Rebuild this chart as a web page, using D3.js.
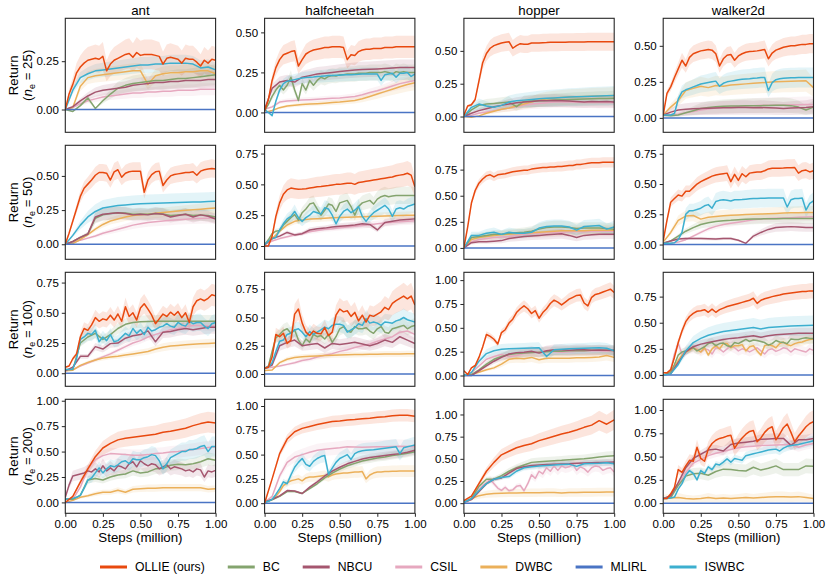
<!DOCTYPE html>
<html>
<head>
<meta charset="utf-8">
<script src="https://cdn.jsdelivr.net/npm/d3@7"></script>
<style>
body { margin: 0; background: #fff; }
svg text { font-family: "Liberation Sans", Arial, Helvetica, sans-serif; fill: #000; }
</style>
</head>
<body>
<svg id="view" width="830" height="584"></svg>
<script>

const methods = ['OLLIE (ours)', 'BC', 'NBCU', 'CSIL', 'DWBC', 'MLIRL', 'ISWBC'];
const colors  = ['#e8490f', '#84a46e', '#a5566f', '#e6a8bf', '#ebb05a', '#4a74c4', '#3cafcf'];
const envs    = ['ant', 'halfcheetah', 'hopper', 'walker2d'];
const demoSizes = [25, 50, 100, 200];
const xTicks  = [0, 0.25, 0.5, 0.75, 1];

// y limits per panel (ant, halfcheetah, hopper, walker2d)
const yLim25  = [[-0.118, 0.472], [-0.124, 0.588], [-0.12, 0.748], [-0.1, 0.691]];
const yLim50  = [[-0.11, 0.724], [-0.108, 0.817], [-0.109, 0.983], [-0.122, 0.82]];
const yLim100 = [[-0.108, 0.835], [-0.109, 0.9], [-0.113, 1.082], [-0.109, 0.983]];
const yLim200 = [[-0.107, 1.014], [-0.104, 1.069], [-0.114, 1.171], [-0.109, 1.115]];

// mean return, evenly spaced over 0..1 million steps
// order: OLLIE, BC, NBCU, CSIL, DWBC, MLIRL, ISWBC
const ant25 = [
  [0,0.08,0.13,0.19,0.22,0.24,0.255,0.26,0.265,0.26,0.275,0.2,0.235,0.255,0.265,0.275,0.285,0.29,0.27,0.295,0.28,0.285,0.285,0.285,0.28,0.275,0.235,0.265,0.27,0.265,0.26,0.24,0.265,0.26,0.26,0.245,0.225,0.255,0.24,0.26,0.255],
  [0,-0.01,0.02,0.06,0.005,0.045,0.08,0.11,0.125,0.135,0.14,0.145,0.15,0.15,0.155,0.16,0.16,0.165,0.17,0.175,0.18],
  [0,0.015,0.045,0.07,0.09,0.1,0.105,0.11,0.115,0.125,0.13,0.135,0.14,0.14,0.145,0.145,0.15,0.15,0.15,0.155,0.155],
  [0,0.01,0.03,0.045,0.055,0.065,0.07,0.075,0.08,0.085,0.085,0.09,0.09,0.095,0.095,0.1,0.1,0.1,0.105,0.105,0.105],
  [0,0.01,0.12,0.165,0.175,0.18,0.185,0.19,0.195,0.2,0.2,0.13,0.175,0.185,0.19,0.19,0.195,0.195,0.2,0.2,0.185],
  [0,0],
  [0,0.1,0.165,0.185,0.2,0.205,0.21,0.215,0.22,0.225,0.23,0.23,0.235,0.235,0.24,0.24,0.24,0.235,0.215,0.22,0.205]
];
const halfcheetah25 = [
  [0.01,0.08,0.2,0.28,0.33,0.36,0.37,0.38,0.385,0.29,0.33,0.365,0.38,0.39,0.395,0.4,0.405,0.405,0.41,0.41,0.41,0.405,0.33,0.36,0.355,0.38,0.39,0.395,0.395,0.4,0.4,0.4,0.405,0.405,0.405,0.41,0.41,0.41,0.41,0.41,0.41],
  [0.01,0.05,0.1,0.14,0.17,0.14,0.17,0.22,0.14,0.075,0.18,0.14,0.2,0.17,0.2,0.22,0.21,0.225,0.23,0.228,0.235,0.235,0.24,0.24,0.24,0.245,0.245,0.245,0.25,0.25,0.25,0.25,0.255,0.25,0.24,0.255,0.25,0.255,0.25,0.25,0.25],
  [0.02,0.15,0.19,0.2,0.19,0.22,0.23,0.24,0.245,0.25,0.255,0.26,0.265,0.268,0.27,0.272,0.275,0.278,0.28,0.28,0.28],
  [0.02,0.035,0.065,0.072,0.075,0.078,0.08,0.082,0.085,0.088,0.09,0.095,0.1,0.11,0.125,0.135,0.15,0.165,0.18,0.19,0.2],
  [0,0.012,0.03,0.04,0.045,0.05,0.052,0.055,0.058,0.062,0.065,0.07,0.075,0.085,0.1,0.115,0.13,0.145,0.16,0.175,0.185],
  [0,0],
  [0.02,0,-0.02,0.07,0.14,0.18,0.195,0.2,0.205,0.21,0.215,0.218,0.22,0.222,0.225,0.226,0.228,0.23,0.23,0.232,0.233,0.235,0.235,0.236,0.237,0.238,0.24,0.24,0.24,0.24,0.24,0.2,0.235,0.24,0.245,0.22,0.245,0.245,0.25,0.225,0.24]
];
const hopper25 = [
  [0.01,0.08,0.09,0.13,0.27,0.41,0.48,0.52,0.54,0.55,0.56,0.565,0.57,0.52,0.54,0.555,0.55,0.55,0.56,0.56,0.56,0.562,0.563,0.565,0.565,0.565,0.566,0.566,0.567,0.567,0.568,0.568,0.568,0.569,0.569,0.569,0.57,0.57,0.57,0.57,0.57],
  [0,0.05,0.085,0.095,0.1,0.105,0.11,0.075,0.115,0.118,0.12,0.122,0.125,0.127,0.13,0.132,0.134,0.135,0.137,0.138,0.14],
  [0,0.025,0.045,0.06,0.075,0.085,0.095,0.105,0.11,0.115,0.12,0.12,0.122,0.12,0.118,0.115,0.11,0.115,0.112,0.115,0.11],
  [0,0.01,0.025,0.035,0.045,0.055,0.065,0.075,0.085,0.095,0.1,0.105,0.11,0.11,0.11,0.108,0.107,0.108,0.106,0.106,0.105],
  [0,-0.005,0.005,0.025,0.04,0.055,0.065,0.08,0.095,0.11,0.125,0.135,0.14,0.145,0.148,0.15,0.153,0.155,0.157,0.158,0.16],
  [0,0],
  [0,0.07,0.095,0.08,0.07,0.085,0.11,0.12,0.125,0.13,0.135,0.14,0.142,0.145,0.148,0.15,0.153,0.155,0.157,0.158,0.16]
];
const walker2d25 = [
  [0.02,0.17,0.215,0.28,0.34,0.4,0.36,0.42,0.445,0.455,0.465,0.47,0.475,0.47,0.445,0.36,0.41,0.435,0.44,0.4,0.43,0.445,0.455,0.46,0.462,0.465,0.47,0.475,0.41,0.45,0.47,0.48,0.49,0.495,0.5,0.5,0.505,0.51,0.51,0.515,0.515],
  [0.02,0.015,0.02,0.035,0.05,0.065,0.072,0.077,0.08,0.082,0.083,0.084,0.085,0.085,0.086,0.087,0.088,0.085,0.075,0.055,0.075],
  [0.02,0.04,0.055,0.06,0.063,0.065,0.067,0.068,0.07,0.07,0.072,0.072,0.07,0.072,0.07,0.068,0.065,0.068,0.07,0.072,0.078],
  [0.02,0.02,0.025,0.035,0.045,0.055,0.062,0.068,0.073,0.077,0.08,0.083,0.085,0.087,0.088,0.089,0.09,0.091,0.092,0.093,0.093],
  [0.02,0.075,0.12,0.19,0.205,0.22,0.21,0.225,0.22,0.228,0.232,0.236,0.24,0.244,0.248,0.25,0.253,0.255,0.256,0.258,0.21],
  [0,0],
  [0.02,0.02,0.02,0.03,0.13,0.18,0.195,0.205,0.215,0.225,0.235,0.24,0.245,0.25,0.255,0.22,0.24,0.25,0.255,0.26,0.265,0.268,0.27,0.272,0.275,0.277,0.28,0.28,0.19,0.245,0.265,0.272,0.275,0.277,0.278,0.278,0.28,0.28,0.28,0.28,0.28]
];

const ant50 = [
  [0,0.08,0.17,0.26,0.35,0.41,0.44,0.47,0.505,0.525,0.525,0.52,0.47,0.53,0.545,0.49,0.52,0.53,0.535,0.535,0.535,0.38,0.47,0.51,0.53,0.535,0.43,0.47,0.5,0.51,0.515,0.52,0.525,0.525,0.53,0.505,0.535,0.545,0.55,0.555,0.55],
  [0,0.02,0.05,0.075,0.19,0.215,0.225,0.23,0.228,0.22,0.222,0.22,0.225,0.222,0.21,0.215,0.22,0.21,0.215,0.21,0.2],
  [0,0.02,0.05,0.075,0.2,0.22,0.225,0.23,0.225,0.215,0.22,0.215,0.225,0.22,0.2,0.21,0.22,0.2,0.215,0.205,0.185],
  [0,0.01,0.03,0.045,0.06,0.08,0.095,0.11,0.125,0.14,0.15,0.16,0.165,0.17,0.175,0.18,0.183,0.186,0.188,0.19,0.19],
  [0,0.005,0.035,0.07,0.11,0.145,0.17,0.185,0.2,0.21,0.215,0.22,0.227,0.233,0.238,0.243,0.248,0.253,0.257,0.262,0.265],
  [0,0],
  [0,0.065,0.14,0.2,0.24,0.265,0.275,0.283,0.288,0.292,0.296,0.298,0.3,0.302,0.304,0.306,0.308,0.309,0.31,0.312,0.315]
];
const halfcheetah50 = [
  [0,0,0.08,0.24,0.35,0.42,0.455,0.47,0.465,0.46,0.462,0.465,0.47,0.475,0.48,0.482,0.487,0.49,0.495,0.5,0.5,0.505,0.51,0.51,0.5,0.515,0.52,0.525,0.53,0.535,0.54,0.545,0.55,0.555,0.56,0.57,0.575,0.58,0.59,0.575,0.48],
  [0.01,0.05,0.1,0.12,0.125,0.17,0.2,0.23,0.255,0.21,0.27,0.3,0.34,0.35,0.3,0.25,0.29,0.34,0.33,0.28,0.35,0.36,0.37,0.32,0.25,0.32,0.35,0.36,0.37,0.34,0.38,0.4,0.41,0.4,0.405,0.41,0.41,0.41,0.41,0.41,0.41],
  [0.01,0.06,0.08,0.11,0.09,0.1,0.13,0.14,0.145,0.155,0.16,0.165,0.17,0.18,0.175,0.13,0.19,0.2,0.21,0.215,0.22],
  [0.01,0.04,0.06,0.075,0.09,0.1,0.115,0.125,0.135,0.14,0.148,0.155,0.16,0.167,0.173,0.18,0.187,0.192,0.197,0.2,0.205],
  [0.01,0.06,0.12,0.17,0.2,0.21,0.218,0.222,0.226,0.229,0.232,0.234,0.236,0.238,0.24,0.242,0.244,0.246,0.248,0.249,0.25],
  [0,0],
  [0.01,0.04,0.06,0.07,0.13,0.18,0.22,0.24,0.28,0.23,0.2,0.23,0.25,0.28,0.27,0.26,0.31,0.3,0.25,0.18,0.24,0.28,0.3,0.27,0.29,0.32,0.24,0.2,0.24,0.27,0.29,0.31,0.33,0.3,0.24,0.3,0.31,0.3,0.32,0.33,0.34]
];
const hopper50 = [
  [0,0.2,0.43,0.55,0.62,0.66,0.69,0.7,0.68,0.7,0.705,0.71,0.72,0.73,0.735,0.74,0.745,0.745,0.755,0.76,0.765,0.77,0.77,0.775,0.775,0.78,0.78,0.785,0.79,0.79,0.8,0.8,0.805,0.81,0.815,0.815,0.815,0.82,0.82,0.82,0.82],
  [0,0.1,0.11,0.12,0.13,0.13,0.14,0.145,0.15,0.16,0.18,0.195,0.2,0.2,0.195,0.185,0.19,0.19,0.19,0.185,0.18],
  [0,0.05,0.06,0.06,0.065,0.07,0.09,0.1,0.11,0.115,0.12,0.125,0.13,0.135,0.12,0.1,0.12,0.125,0.13,0.13,0.13],
  [0,0.06,0.08,0.09,0.1,0.105,0.11,0.12,0.13,0.135,0.14,0.145,0.15,0.15,0.155,0.155,0.155,0.16,0.16,0.16,0.16],
  [0,0.08,0.1,0.11,0.12,0.125,0.13,0.135,0.14,0.145,0.15,0.155,0.16,0.165,0.165,0.165,0.165,0.17,0.17,0.17,0.17],
  [0,0],
  [0,0.12,0.12,0.14,0.15,0.13,0.15,0.14,0.14,0.15,0.19,0.205,0.21,0.21,0.2,0.17,0.205,0.21,0.215,0.18,0.2]
];
const walker2d50 = [
  [0.03,0.2,0.35,0.38,0.41,0.4,0.44,0.44,0.47,0.5,0.52,0.535,0.55,0.565,0.575,0.58,0.585,0.59,0.52,0.58,0.53,0.585,0.56,0.59,0.595,0.6,0.6,0.61,0.625,0.63,0.63,0.63,0.632,0.635,0.635,0.636,0.59,0.61,0.615,0.6,0.61],
  [0.01,0.03,0.07,0.11,0.14,0.165,0.18,0.19,0.197,0.2,0.205,0.208,0.21,0.212,0.213,0.214,0.215,0.215,0.215,0.215,0.215],
  [0.01,0.03,0.045,0.05,0.05,0.05,0.048,0.045,0.05,0.05,0.035,0.01,0.07,0.1,0.125,0.14,0.145,0.148,0.145,0.14,0.14],
  [0.01,0.01,0.02,0.04,0.07,0.1,0.13,0.15,0.165,0.175,0.185,0.195,0.205,0.21,0.215,0.218,0.22,0.222,0.225,0.228,0.23],
  [0.02,0.1,0.2,0.235,0.24,0.21,0.225,0.232,0.238,0.242,0.245,0.248,0.25,0.252,0.255,0.257,0.26,0.262,0.263,0.264,0.265],
  [0,0],
  [0.01,0.01,0.01,0.015,0.04,0.1,0.25,0.28,0.28,0.29,0.3,0.32,0.33,0.3,0.355,0.365,0.37,0.365,0.36,0.37,0.37,0.372,0.375,0.378,0.38,0.38,0.382,0.383,0.384,0.385,0.385,0.385,0.385,0.31,0.37,0.38,0.38,0.385,0.285,0.34,0.36]
];

const ant100 = [
  [0.05,0.06,0.12,0.16,0.3,0.37,0.355,0.4,0.46,0.43,0.45,0.44,0.48,0.44,0.49,0.43,0.55,0.47,0.5,0.44,0.54,0.575,0.53,0.48,0.41,0.45,0.49,0.47,0.505,0.48,0.51,0.46,0.5,0.42,0.55,0.6,0.615,0.6,0.62,0.65,0.64],
  [0.03,0.03,0.25,0.3,0.33,0.28,0.32,0.37,0.405,0.42,0.425,0.428,0.43,0.43,0.43,0.43,0.43,0.43,0.43,0.43,0.43],
  [0.02,0.05,0.14,0.14,0.22,0.2,0.245,0.25,0.29,0.31,0.32,0.35,0.26,0.34,0.345,0.36,0.37,0.36,0.37,0.38,0.38],
  [0.02,0.03,0.06,0.085,0.11,0.135,0.16,0.19,0.22,0.25,0.27,0.3,0.32,0.34,0.36,0.37,0.385,0.395,0.395,0.39,0.39],
  [0.02,0.025,0.065,0.09,0.11,0.125,0.135,0.14,0.15,0.16,0.17,0.18,0.2,0.215,0.225,0.23,0.235,0.24,0.243,0.247,0.25],
  [0,0],
  [0.03,0.03,0.035,0.12,0.28,0.3,0.33,0.32,0.355,0.26,0.3,0.27,0.32,0.26,0.27,0.3,0.33,0.31,0.37,0.33,0.36,0.32,0.38,0.35,0.36,0.38,0.39,0.41,0.39,0.38,0.42,0.4,0.39,0.43,0.41,0.42,0.42,0.39,0.37,0.41,0.42]
];
const halfcheetah100 = [
  [0.05,0.06,0.15,0.35,0.33,0.36,0.27,0.3,0.53,0.575,0.45,0.37,0.34,0.38,0.36,0.355,0.41,0.34,0.37,0.52,0.575,0.55,0.56,0.51,0.545,0.47,0.52,0.46,0.52,0.51,0.53,0.55,0.59,0.57,0.625,0.65,0.67,0.69,0.665,0.69,0.61],
  [0.05,0.07,0.2,0.32,0.35,0.385,0.4,0.36,0.39,0.3,0.25,0.31,0.28,0.35,0.33,0.34,0.31,0.35,0.28,0.33,0.4,0.42,0.38,0.37,0.42,0.4,0.4,0.41,0.38,0.36,0.4,0.42,0.37,0.36,0.4,0.41,0.42,0.43,0.4,0.42,0.43],
  [0.05,0.08,0.25,0.28,0.3,0.25,0.26,0.27,0.23,0.27,0.26,0.27,0.28,0.265,0.25,0.27,0.3,0.28,0.33,0.3,0.27],
  [0.05,0.06,0.07,0.085,0.1,0.12,0.13,0.15,0.165,0.18,0.2,0.215,0.235,0.25,0.265,0.29,0.31,0.33,0.37,0.38,0.35],
  [0.03,0.035,0.1,0.13,0.145,0.152,0.156,0.16,0.163,0.166,0.168,0.17,0.172,0.173,0.174,0.175,0.176,0.177,0.177,0.178,0.178],
  [0,0],
  [0.05,0.06,0.1,0.2,0.29,0.3,0.35,0.36,0.39,0.4,0.37,0.33,0.375,0.35,0.37,0.39,0.415,0.4,0.43,0.44,0.44,0.43,0.37,0.39,0.41,0.445,0.43,0.49,0.45,0.46,0.45,0.43,0.46,0.455,0.45,0.47,0.48,0.5,0.48,0.47,0.46]
];
const hopper100 = [
  [0.05,0.01,0.08,0.105,0.19,0.3,0.43,0.41,0.38,0.33,0.45,0.48,0.55,0.59,0.66,0.7,0.73,0.7,0.65,0.68,0.6,0.66,0.7,0.755,0.79,0.77,0.74,0.77,0.8,0.82,0.84,0.845,0.76,0.73,0.82,0.85,0.86,0.875,0.89,0.905,0.87],
  [0,0.01,0.06,0.12,0.17,0.2,0.22,0.23,0.235,0.24,0.245,0.25,0.255,0.255,0.26,0.26,0.26,0.265,0.265,0.265,0.26],
  [0,0,0.05,0.1,0.15,0.19,0.225,0.24,0.245,0.255,0.235,0.26,0.27,0.27,0.265,0.27,0.27,0.265,0.268,0.265,0.265],
  [0,0.03,0.1,0.17,0.2,0.22,0.2,0.21,0.23,0.24,0.25,0.26,0.25,0.245,0.25,0.255,0.255,0.26,0.26,0.255,0.25],
  [0,0.01,0.035,0.06,0.08,0.12,0.17,0.18,0.175,0.19,0.165,0.18,0.18,0.18,0.18,0.185,0.185,0.19,0.195,0.21,0.19],
  [0,0],
  [0,0.03,0.15,0.23,0.26,0.275,0.28,0.282,0.285,0.288,0.29,0.2,0.27,0.275,0.28,0.282,0.285,0.288,0.29,0.285,0.26]
];
const walker2d100 = [
  [0.02,0.02,0.05,0.17,0.31,0.42,0.51,0.56,0.59,0.61,0.615,0.625,0.6,0.63,0.6,0.625,0.64,0.655,0.665,0.675,0.685,0.695,0.705,0.715,0.735,0.685,0.715,0.73,0.74,0.75,0.758,0.765,0.775,0.78,0.785,0.79,0.795,0.8,0.8,0.805,0.805],
  [0,0.01,0.03,0.1,0.19,0.22,0.23,0.25,0.26,0.23,0.25,0.27,0.3,0.31,0.28,0.3,0.305,0.28,0.27,0.31,0.3,0.32,0.34,0.32,0.335,0.33,0.32,0.31,0.285,0.3,0.33,0.315,0.31,0.3,0.345,0.34,0.34,0.35,0.355,0.35,0.35],
  [0,0.01,0.12,0.22,0.27,0.295,0.31,0.325,0.34,0.35,0.355,0.365,0.375,0.36,0.375,0.385,0.39,0.395,0.4,0.4,0.4],
  [0,0.01,0.05,0.2,0.3,0.2,0.23,0.25,0.26,0.25,0.22,0.25,0.24,0.2,0.26,0.25,0.22,0.25,0.28,0.26,0.23,0.25,0.24,0.22,0.24,0.26,0.23,0.2,0.24,0.25,0.225,0.24,0.26,0.25,0.22,0.25,0.24,0.23,0.22,0.25,0.235],
  [0,0.01,0.03,0.08,0.14,0.19,0.22,0.235,0.26,0.24,0.22,0.26,0.19,0.25,0.28,0.25,0.3,0.3,0.26,0.28,0.28,0.29,0.23,0.27,0.28,0.23,0.19,0.28,0.29,0.28,0.26,0.3,0.315,0.29,0.28,0.3,0.31,0.315,0.33,0.34,0.345],
  [0,0],
  [0,0.01,0.1,0.23,0.31,0.35,0.38,0.4,0.415,0.425,0.435,0.445,0.455,0.44,0.455,0.46,0.465,0.468,0.47,0.473,0.475]
];

const ant200 = [
  [0,0.06,0.2,0.33,0.45,0.535,0.58,0.615,0.63,0.64,0.65,0.66,0.67,0.69,0.7,0.715,0.73,0.755,0.775,0.79,0.78],
  [0.03,0.03,0.07,0.22,0.235,0.22,0.25,0.27,0.28,0.31,0.29,0.3,0.33,0.335,0.365,0.375,0.37,0.38,0.4,0.43,0.415],
  [0.05,0.17,0.26,0.27,0.28,0.29,0.31,0.3,0.33,0.3,0.36,0.31,0.34,0.31,0.36,0.35,0.33,0.38,0.4,0.35,0.41,0.38,0.36,0.38,0.37,0.33,0.35,0.37,0.33,0.35,0.34,0.33,0.31,0.32,0.3,0.33,0.32,0.25,0.31,0.3,0.315],
  [0.03,0.03,0.15,0.33,0.42,0.46,0.48,0.475,0.47,0.465,0.465,0.47,0.48,0.485,0.495,0.5,0.51,0.52,0.53,0.54,0.545],
  [0,0.02,0.05,0.065,0.085,0.1,0.1,0.12,0.1,0.13,0.135,0.14,0.14,0.145,0.145,0.145,0.145,0.145,0.145,0.13,0.135],
  [0,0],
  [0.03,0.035,0.04,0.05,0.07,0.14,0.22,0.24,0.29,0.34,0.29,0.33,0.36,0.35,0.37,0.4,0.41,0.38,0.43,0.42,0.42,0.44,0.45,0.47,0.46,0.41,0.33,0.38,0.44,0.46,0.48,0.5,0.5,0.52,0.52,0.53,0.55,0.56,0.5,0.55,0.55]
];
const halfcheetah200 = [
  [0,0.25,0.51,0.66,0.735,0.77,0.79,0.81,0.825,0.84,0.845,0.855,0.86,0.87,0.875,0.885,0.89,0.9,0.905,0.905,0.895],
  [0.01,0.035,0.07,0.12,0.12,0.1,0.15,0.2,0.26,0.31,0.35,0.385,0.41,0.435,0.45,0.465,0.475,0.49,0.5,0.515,0.53],
  [0.01,0.04,0.075,0.13,0.125,0.1,0.165,0.22,0.28,0.33,0.37,0.405,0.43,0.455,0.47,0.48,0.49,0.5,0.51,0.525,0.545],
  [0.01,0.07,0.28,0.42,0.475,0.5,0.525,0.545,0.555,0.562,0.57,0.58,0.578,0.575,0.578,0.58,0.582,0.584,0.585,0.583,0.58],
  [0.01,0.02,0.04,0.07,0.12,0.18,0.21,0.23,0.24,0.25,0.23,0.26,0.27,0.27,0.275,0.28,0.285,0.27,0.29,0.3,0.305,0.31,0.31,0.315,0.32,0.32,0.325,0.25,0.29,0.31,0.32,0.322,0.325,0.327,0.328,0.329,0.33,0.33,0.33,0.33,0.33],
  [0,0],
  [0.01,0.02,0.04,0.09,0.15,0.22,0.2,0.29,0.37,0.42,0.46,0.4,0.38,0.43,0.46,0.48,0.49,0.3,0.36,0.42,0.46,0.48,0.5,0.45,0.51,0.53,0.54,0.545,0.548,0.55,0.555,0.56,0.565,0.57,0.575,0.58,0.51,0.57,0.58,0.59,0.6]
];
const hopper200 = [
  [0.03,0.08,0.22,0.36,0.46,0.545,0.585,0.625,0.65,0.67,0.705,0.73,0.755,0.78,0.8,0.825,0.855,0.88,0.93,0.89,0.94],
  [0.01,0.05,0.19,0.27,0.27,0.31,0.36,0.4,0.43,0.46,0.468,0.473,0.478,0.483,0.49,0.495,0.5,0.51,0.52,0.53,0.535],
  [0.01,0.04,0.13,0.22,0.27,0.285,0.34,0.39,0.41,0.425,0.43,0.435,0.44,0.443,0.445,0.45,0.453,0.455,0.458,0.462,0.465],
  [0.01,0.02,0.05,0.09,0.16,0.2,0.23,0.27,0.22,0.17,0.145,0.18,0.14,0.15,0.19,0.2,0.14,0.22,0.32,0.28,0.36,0.33,0.4,0.36,0.42,0.37,0.42,0.4,0.41,0.44,0.37,0.41,0.39,0.35,0.4,0.42,0.41,0.37,0.39,0.4,0.35],
  [0.01,0.05,0.085,0.1,0.108,0.112,0.114,0.115,0.117,0.118,0.119,0.12,0.12,0.115,0.12,0.121,0.122,0.123,0.124,0.125,0.125],
  [0,0],
  [0.01,0.05,0.14,0.22,0.27,0.29,0.3,0.36,0.4,0.41,0.42,0.425,0.43,0.435,0.44,0.415,0.445,0.448,0.45,0.455,0.445]
];
const walker2d200 = [
  [0.05,0.05,0.1,0.17,0.36,0.33,0.4,0.46,0.45,0.6,0.48,0.45,0.58,0.64,0.675,0.695,0.705,0.72,0.73,0.59,0.65,0.7,0.74,0.77,0.78,0.66,0.7,0.76,0.8,0.82,0.68,0.74,0.81,0.85,0.76,0.66,0.72,0.77,0.82,0.855,0.875],
  [0.05,0.06,0.19,0.29,0.315,0.32,0.3,0.34,0.365,0.36,0.35,0.345,0.385,0.355,0.375,0.4,0.36,0.36,0.36,0.4,0.395],
  [0.05,0.08,0.22,0.38,0.48,0.525,0.57,0.58,0.56,0.63,0.645,0.655,0.665,0.685,0.69,0.695,0.695,0.62,0.68,0.68,0.695],
  [0.05,0.07,0.19,0.33,0.43,0.47,0.51,0.535,0.555,0.575,0.595,0.605,0.612,0.62,0.622,0.625,0.628,0.63,0.6,0.625,0.64],
  [0.05,0.055,0.06,0.05,0.045,0.05,0.06,0.05,0.055,0.05,0.055,0.06,0.055,0.06,0.065,0.07,0.07,0.065,0.07,0.06,0.05],
  [0,0],
  [0.05,0.05,0.055,0.065,0.15,0.21,0.3,0.35,0.32,0.25,0.35,0.32,0.39,0.36,0.42,0.41,0.44,0.475,0.44,0.48,0.47,0.46,0.51,0.52,0.53,0.54,0.55,0.56,0.57,0.575,0.58,0.56,0.59,0.61,0.62,0.625,0.63,0.64,0.65,0.66,0.67]
];

// shaded band half-width, as a fraction of the mean (same method order)
const spread25  = [[0.27,0.3,0.27,0.3,0.2,0,0.18], [0.17,0.2,0.18,0.2,0.25,0,0.17], [0.12,0.4,0.4,0.4,0.4,0,0.45], [0.13,0.6,0.7,0.6,0.3,0,0.25]];
const spread50  = [[0.12,0.2,0.2,0.2,0.15,0,0.22], [0.17,0.17,0.15,0.15,0.12,0,0.2], [0.06,0.3,0.35,0.3,0.3,0,0.3], [0.11,0.2,0.25,0.15,0.2,0,0.2]];
const spread100 = [[0.14,0.12,0.14,0.1,0.15,0,0.17], [0.17,0.15,0.18,0.15,0.15,0,0.16], [0.08,0.2,0.2,0.2,0.25,0,0.2], [0.09,0.15,0.13,0.2,0.12,0,0.2]];
const spread200 = [[0.13,0.15,0.2,0.12,0.25,0,0.18], [0.07,0.08,0.08,0.12,0.18,0,0.14], [0.12,0.1,0.08,0.15,0.4,0,0.08], [0.14,0.2,0.08,0.08,0.8,0,0.08]];

const panels = [
  [ant25, halfcheetah25, hopper25, walker2d25],
  [ant50, halfcheetah50, hopper50, walker2d50],
  [ant100, halfcheetah100, hopper100, walker2d100],
  [ant200, halfcheetah200, hopper200, walker2d200]
];
const yLims   = [yLim25, yLim50, yLim100, yLim200];
const spreads = [spread25, spread50, spread100, spread200];

const drawOrder = [3, 4, 1, 2, 5, 6, 0];

const left0 = 65.3, colStep = 199.3, pw = 150.3;
const top0 = 18.3, rowStep = 127, ph = 114;
const frameColor = '#262626';

const svg = d3.select('#view');

panels.forEach((row, r) => row.forEach((series, c) => {
    const g = svg.append('g')
        .attr('transform', `translate(${left0 + c * colStep},${top0 + r * rowStep})`);

    const x = d3.scaleLinear().domain([0, 1]).range([0, pw]);
    const y = d3.scaleLinear().domain(yLims[r][c]).range([ph, 0]);

    const clipId = `clip-${r}-${c}`;
    g.append('clipPath').attr('id', clipId)
        .append('rect').attr('width', pw).attr('height', ph);
    const plot = g.append('g').attr('clip-path', `url(#${clipId})`);

    const toPoints = vals => vals.map((v, i) => ({ x: i / (vals.length - 1), v: v }));
    const sp = spreads[r][c];

    // bands first
    drawOrder.forEach(k => {
        if (!sp[k]) return;
        const band = d3.area()
            .x(d => x(d.x))
            .y0(d => y(d.v - sp[k] * Math.abs(d.v)))
            .y1(d => y(d.v + sp[k] * Math.abs(d.v)));
        plot.append('path')
            .datum(toPoints(series[k]))
            .attr('d', band)
            .attr('fill', colors[k])
            .attr('fill-opacity', 0.14)
            .attr('stroke', 'none');
    });

    const line = d3.line().x(d => x(d.x)).y(d => y(d.v));
    drawOrder.forEach(k => {
        plot.append('path')
            .datum(toPoints(series[k]))
            .attr('d', line)
            .attr('fill', 'none')
            .attr('stroke', colors[k])
            .attr('stroke-width', 1.5)
            .attr('stroke-linejoin', 'round');
    });

    g.append('rect')
        .attr('width', pw).attr('height', ph)
        .attr('fill', 'none')
        .attr('stroke', frameColor)
        .attr('stroke-width', 1.1);

    const [lo, hi] = yLims[r][c];
    const yTicks = d3.range(Math.ceil(lo / 0.25), Math.floor(hi / 0.25) + 1).map(i => i * 0.25);
    const yAxis = g.append('g')
        .call(d3.axisLeft(y).tickValues(yTicks).tickFormat(d3.format('.2f')).tickSize(3.5).tickPadding(3));
    yAxis.select('.domain').remove();
    yAxis.selectAll('line').attr('stroke', frameColor);
    yAxis.selectAll('text').attr('font-size', 11.5).attr('font-family', null);

    if (r === panels.length - 1) {
        const xAxis = g.append('g')
            .attr('transform', `translate(0,${ph})`)
            .call(d3.axisBottom(x).tickValues(xTicks).tickFormat(d3.format('.2f')).tickSize(3.5).tickPadding(3));
        xAxis.select('.domain').remove();
        xAxis.selectAll('line').attr('stroke', frameColor);
        xAxis.selectAll('text').attr('font-size', 11.5).attr('font-family', null);

        g.append('text')
            .attr('x', pw / 2).attr('y', ph + 28.5)
            .attr('text-anchor', 'middle')
            .attr('font-size', 13.3)
            .text('Steps (million)');
    }

    if (r === 0) {
        g.append('text')
            .attr('x', pw / 2).attr('y', -3.5)
            .attr('text-anchor', 'middle')
            .attr('font-size', 13.3)
            .text(envs[c]);
    }

    if (c === 0) {
        const lab = g.append('g')
            .attr('transform', `translate(${-left0},${ph / 2}) rotate(-90)`);
        lab.append('text')
            .attr('x', 0).attr('y', 17.5)
            .attr('text-anchor', 'middle')
            .attr('font-size', 13.3)
            .text('Return');
        const t2 = lab.append('text')
            .attr('x', 0).attr('y', 32)
            .attr('text-anchor', 'middle')
            .attr('font-size', 13.3);
        t2.append('tspan').text('(');
        t2.append('tspan').attr('font-style', 'italic').text('n');
        t2.append('tspan').attr('font-size', 9).attr('dy', 3).text('e');
        t2.append('tspan').attr('dy', -3).text(` = ${demoSizes[r]})`);
    }
}));

// legend
const legend = svg.append('g').attr('transform', 'translate(100,567)');
let lx = 0;
methods.forEach((name, k) => {
    legend.append('line')
        .attr('x1', lx).attr('x2', lx + 27)
        .attr('y1', 0).attr('y2', 0)
        .attr('stroke', colors[k])
        .attr('stroke-width', 3);
    const t = legend.append('text')
        .attr('x', lx + 35).attr('y', 4.3)
        .attr('font-size', 12.2)
        .text(name);
    lx += 35 + t.node().getComputedTextLength() + 23;
});

</script>
</body>
</html>
